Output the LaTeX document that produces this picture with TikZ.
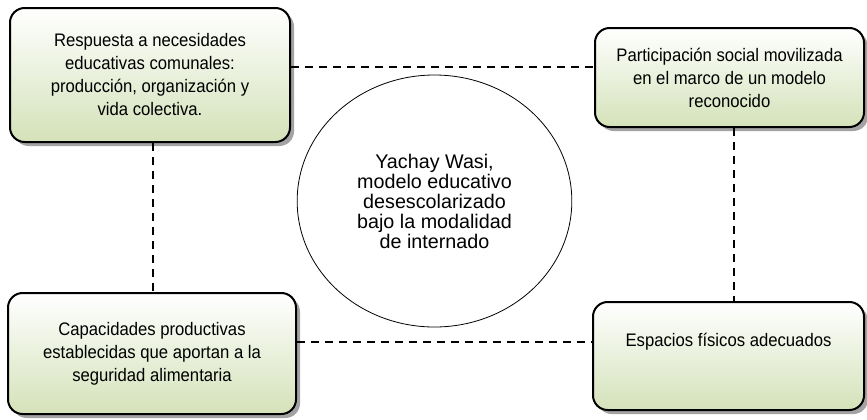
\documentclass[tikz,border=0pt]{standalone}
\usepackage{fontspec}
\setmainfont{Liberation Sans}
\newfontfamily\boxfont[FakeStretch=0.92]{Liberation Sans}
\usetikzlibrary{shapes.geometric,shadows}
\definecolor{leafgreen}{RGB}{212,226,185}
\begin{document}
\begin{tikzpicture}[x=0.75pt,y=-0.75pt]
	\tikzstyle{factor}=[draw=black,line width=1.5pt,rounded corners=11pt,top color=white,bottom color=leafgreen,align=center,font=\boxfont\fontsize{13.6}{17.25}\selectfont,drop shadow={shadow xshift=3pt,shadow yshift=-3pt,fill=black!45,opacity=.8}]
	\tikzstyle{core}=[ellipse,draw=black,line width=0.6pt,align=center,font=\fontsize{14.8}{15}\selectfont,minimum width=206pt,minimum height=189pt]
	\tikzstyle{link}=[draw,line width=1.5pt,dash pattern=on 6pt off 4.5pt]
	\useasboundingbox (0,0) rectangle (867,419);
	\begin{scope}
		\node [factor,minimum width=210pt,minimum height=100.5pt] (need) at (150,75) {Respuesta a necesidades\\educativas comunales:\\producción, organización y\\vida colectiva.};
		\node [factor,minimum width=201.75pt,minimum height=74.25pt] (part) at (729.5,77.5) {Participación social movilizada\\en el marco de un modelo\\reconocido};
		\node [factor,minimum width=216pt,minimum height=90.75pt] (capa) at (152,353.5) {Capacidades productivas\\establecidas que aportan a la\\seguridad alimentaria};
		\node [factor,minimum width=203.25pt,minimum height=81pt,text depth=23.7pt] (space) at (728.5,356) {Espacios físicos adecuados};
		\node [core] (yachay) at (434.5,201) {Yachay Wasi,\\modelo educativo\\desescolarizado\\bajo la modalidad\\de internado};
		\coordinate (toprow) at (0,67);
		\coordinate (lowrow) at (0,342);
		\coordinate (leftcol) at (153,0);
		\coordinate (rightcol) at (734,0);
		\path[link] (need.east |- toprow) -- (part.west |- toprow);
		\path[link] (capa.east |- lowrow) -- (space.west |- lowrow);
		\path[link] (need.south -| leftcol) -- (capa.north -| leftcol);
		\path[link] (part.south -| rightcol) -- (space.north -| rightcol);
	\end{scope}
\end{tikzpicture}
\end{document}
